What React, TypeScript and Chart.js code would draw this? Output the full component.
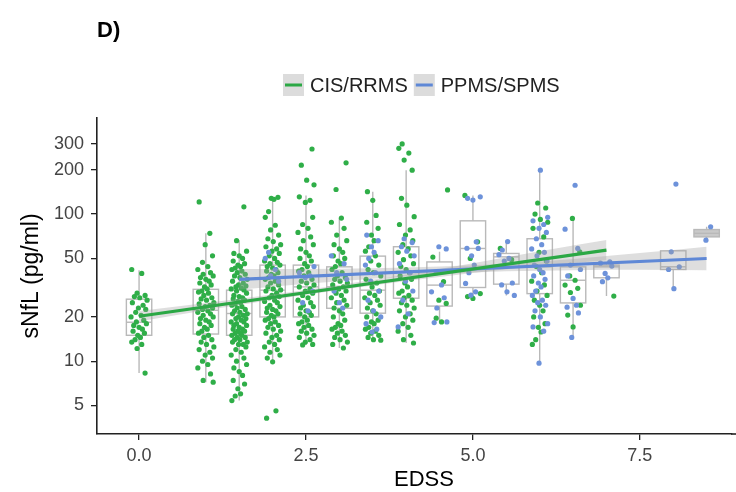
import React, { useEffect, useRef } from 'react';
import { Chart, registerables } from 'chart.js';

Chart.register(...registerables);

// ---------- data ----------
const EDSS_LEVELS = [0, 1, 1.5, 2, 2.5, 3, 3.5, 4, 4.5, 5, 5.5, 6, 6.5, 7, 8, 8.5];
const BOX_LOW = [8.3, 7.2, 5.4, 9.9, 12.9, 12.3, 13.9, 13.3, 18.3, 26.7, 28, 9.7, 14.5, 27.7, 31.1, 66.5];
const BOX_Q1 = [15.0, 15.3, 15.0, 20.0, 20.0, 22.9, 21.2, 26.8, 23.7, 31.7, 33.4, 28.8, 24.9, 36.9, 42.0, 70.0];
const BOX_MED = [18.4, 22.2, 21.1, 30.4, 32.0, 32.0, 30.4, 40.5, 32.9, 58.4, 51.2, 43.8, 35.5, 43.8, 43.8, 74.0];
const BOX_Q3 = [26.4, 30.8, 30.4, 45.0, 45.0, 43.8, 51.8, 60.0, 47.3, 90.0, 54.0, 68.0, 43.8, 45.0, 56.3, 78.5];
const BOX_HIGH = [41.6, 74, 66.5, 131, 134, 94, 142, 199, 55.4, 134, 66.5, 199, 93.5, 47.3, 56.3, 82];

const GREEN_BY_LEVEL: number[][] = [
  [42, 39.5, 29, 28, 27.5, 27, 26, 25, 24, 23, 22.5, 21.5, 20.5, 20, 19, 18.5, 18, 17.5, 17, 16.5, 16, 15.5, 15, 14.5, 14, 13.5, 13, 12.2, 8.3],
  [121, 74, 62, 52, 47, 44, 42, 40, 39, 38, 37, 36, 35, 34, 33, 32, 31, 30, 29.5, 29, 28, 27, 26.5, 26, 25, 24.5, 24, 23.5, 23, 22.5, 22, 21.5, 21, 20.5, 20, 19.5, 19, 18.5, 18, 17.5, 17, 16.5, 16, 15.5, 15, 14.5, 14, 13.5, 13, 12.5, 12, 11.5, 11, 10.5, 10, 9.5, 9, 8.2, 7.4, 7.2],
  [112, 66, 56, 54, 52, 50, 48, 46, 45, 44, 43, 42, 41, 40, 39, 38, 37, 36, 35, 34, 33, 32.5, 32, 31.5, 31, 30.5, 30, 29, 28, 27.5, 27, 26.5, 26, 25.5, 25, 24.5, 24, 23.5, 23, 22.5, 22, 21.5, 21, 21, 20.5, 20, 19.5, 19.5, 19, 18.5, 18.5, 18, 17.5, 17.5, 17, 16.5, 16.5, 16, 16, 15.5, 15.5, 15, 15, 14.5, 14.5, 14, 14, 13.5, 13.5, 13, 13, 12.5, 12, 11.5, 11, 10.5, 10, 9.5, 9, 8.5, 8, 7.4, 7, 6.5, 6, 5.8, 5.4],
  [130, 128, 126, 104, 95, 84, 78, 72, 68, 65, 62, 60, 58, 56, 54, 52, 50, 48, 47, 46, 45, 44, 43, 42, 41, 40, 39, 38, 37, 36, 35, 34, 33, 32, 31, 30.5, 30, 29, 28, 27.5, 27, 26, 25.5, 25, 24, 23.5, 23, 22.5, 22, 21.5, 21, 20.5, 20, 19.5, 19, 18.5, 18, 17.5, 17, 16.5, 16, 15.5, 15, 14.5, 14, 13.5, 13, 12.5, 12, 11.5, 11, 10.5, 9.9, 4.6, 4.1],
  [277, 215, 170, 158, 131, 124, 120, 95, 85, 80, 75, 70, 66, 62, 58, 55, 52, 50, 48, 46, 44, 42, 41, 40, 38, 36, 35, 34, 33, 32, 31, 30, 29, 28, 27, 26, 25, 24, 23.5, 23, 22, 21.5, 21, 20.5, 20, 19, 18.5, 18, 17.5, 17, 16.5, 16, 15.5, 15, 14.5, 14, 13.5, 13, 12.9],
  [223, 147, 94, 88, 80, 72, 66, 62, 58, 55, 52, 50, 48, 46, 44, 42, 40, 38, 37, 36, 35, 34, 33, 32, 31, 30, 29, 28, 27, 26, 25, 24, 23, 22, 21, 20, 19, 18, 17.5, 17, 16.5, 16, 15.5, 15, 14.5, 14, 13.5, 13, 12.3],
  [142, 124, 98, 88, 80, 72, 66, 60, 56, 52, 48, 45, 42, 40, 38, 36, 34, 32, 30, 29, 28, 27, 26, 25, 24, 23, 22, 21, 20, 19, 18.5, 18, 17, 16.5, 16, 15.5, 15, 14.5, 14, 13.9],
  [300, 280, 260, 233, 199, 128, 115, 96, 85, 78, 72, 66, 62, 58, 55, 52, 49, 46, 44, 42, 40, 38, 36, 34, 32, 30, 29, 28, 27, 26, 25, 24, 23, 22, 21, 20, 19, 18, 17, 16, 15, 14, 13.3],
  [146, 51, 34.7, 26, 24.7, 19.6, 18.5],
  [134, 64.8, 50, 28.8, 27.5, 26.7],
  [58.4, 49],
  [119, 110, 100, 92, 88, 80, 70, 55, 48, 44, 40, 35, 33, 30, 28, 26, 24, 22, 20, 18, 17, 15.8, 14, 13],
  [93.5, 55.4, 38, 35.5, 32.9, 31.3, 29.3, 24, 20.6, 17.1],
  [27.7],
  [],
  [],
];

const BLUE_BY_LEVEL: number[][] = [
  [],
  [],
  [],
  [55, 50, 42, 38, 35],
  [44, 40, 38, 37, 30, 25, 22],
  [52, 46, 40, 36, 30, 25, 23],
  [72, 66, 60, 55, 50, 45, 40, 35, 30, 26, 22, 20, 18, 16.5, 15.8],
  [68, 64, 60, 56, 52, 46, 40, 35, 30, 26, 21, 17.1],
  [60, 58, 40, 33, 29.6, 27, 23, 18.5, 18.3],
  [131, 128, 124.5, 64.8, 58.6, 58.4, 52, 45, 40, 33.8, 29.6, 28.1],
  [65, 57, 53, 50, 48, 34, 33, 29.6, 28],
  [199, 95, 90, 85, 80, 75, 68, 62, 58, 55, 52, 48, 45, 42, 40, 38, 36, 34, 32, 30, 28, 26, 25, 24, 22, 20, 18, 17.1, 16, 9.7],
  [157, 79, 58.4, 45, 42, 38, 26.7, 24, 23.3, 21.3, 14.5],
  [47.3, 46.4, 44.3, 39.5, 36.9, 34.7],
  [160, 55.4, 43.8, 42, 31.1],
  [82, 66.5],
];

// horizontal jitter offsets (EDSS units), cycled through
const JITTER = [-0.11, 0.04, -0.03, 0.09, -0.07, 0.01, 0.12, -0.1, 0.06, -0.01, 0.1, -0.05, 0.03, -0.12, 0.07, -0.04, 0.11, -0.08, 0.0, 0.05, -0.09, 0.08, -0.02, 0.02, -0.06];

// linear fits (log scale) and confidence bands
const GREEN_FIT_X = [0, 7];
const GREEN_FIT_Y = [20.2, 56.9];
const BLUE_FIT_X = [1.5, 8.5];
const BLUE_FIT_Y = [36.0, 49.9];

const GREEN_BAND_X = [0, 1, 2, 3, 4, 5, 6, 7];
const GREEN_BAND_LOW = [18.6, 22.2, 26.2, 30.5, 35.1, 39.8, 44.4, 48.6];
const GREEN_BAND_HIGH = [21.9, 24.9, 28.4, 33.0, 38.8, 46.3, 55.9, 66.6];

const BLUE_BAND_X = [1.5, 2.5, 3.5, 4.5, 5.5, 6.5, 7.5, 8.5];
const BLUE_BAND_LOW = [30.6, 33.6, 36.4, 38.9, 40.8, 41.6, 41.8, 41.5];
const BLUE_BAND_HIGH = [42.3, 42.3, 42.8, 44.0, 46.2, 49.5, 54.3, 60.0];

const X_TICKS = [0, 2.5, 5, 7.5];
const Y_TICKS = [5, 10, 20, 50, 100, 200, 300];

const SERIES_NAMES = ['CIS/RRMS', 'PPMS/SPMS'];
const TITLE = 'D)';
const X_TITLE = 'EDSS';
const Y_TITLE = 'sNfL (pg/ml)';

// ---------- styles ----------
const GREEN = '#2fae48';
const BLUE = '#6d92da';
const GREEN_LINE = '#2ba845';
const BLUE_LINE = '#5f88d6';
const BAND = 'rgba(160,160,160,0.35)';
const FONT = '"Liberation Sans", Arial, Helvetica, sans-serif';

function pts(levelsVals: number[][], shift: number) {
  const out: { x: number; y: number }[] = [];
  EDSS_LEVELS.forEach((lv, g) => {
    levelsVals[g].forEach((v, i) => {
      out.push({ x: lv + JITTER[(i + g * 7 + shift) % JITTER.length], y: v });
    });
  });
  return out;
}

const zip = (xs: number[], ys: number[]) => xs.map((x, i) => ({ x, y: ys[i] }));

const overlay = {
  id: 'overlay',
  beforeDatasetsDraw(chart: any) {
    const xs = chart.scales.x;
    const ys = chart.scales.y;
    const a = chart.chartArea;
    const c: CanvasRenderingContext2D = chart.ctx;
    c.save();
    c.beginPath();
    c.rect(a.left, a.top, a.right - a.left, a.bottom - a.top);
    c.clip();
    const half = 0.19;
    EDSS_LEVELS.forEach((lv, i) => {
      const xl = xs.getPixelForValue(lv - half);
      const xr = xs.getPixelForValue(lv + half);
      const xc = xs.getPixelForValue(lv);
      const pLow = ys.getPixelForValue(BOX_LOW[i]);
      const pQ1 = ys.getPixelForValue(BOX_Q1[i]);
      const pMed = ys.getPixelForValue(BOX_MED[i]);
      const pQ3 = ys.getPixelForValue(BOX_Q3[i]);
      const pHigh = ys.getPixelForValue(BOX_HIGH[i]);
      c.strokeStyle = '#b9b9b9';
      c.lineWidth = 1.4;
      c.beginPath();
      c.moveTo(xc, pQ3);
      c.lineTo(xc, pHigh);
      c.moveTo(xc, pQ1);
      c.lineTo(xc, pLow);
      c.stroke();
      if (pQ1 - pQ3 < 12) {
        c.fillStyle = '#c9c9c9';
        c.fillRect(xl, pQ3, xr - xl, pQ1 - pQ3);
      }
      c.strokeRect(xl, pQ3, xr - xl, pQ1 - pQ3);
      c.beginPath();
      c.moveTo(xl, pMed);
      c.lineTo(xr, pMed);
      c.stroke();
    });
    c.restore();
  },
  afterDraw(chart: any) {
    const c: CanvasRenderingContext2D = chart.ctx;
    const a = chart.chartArea;
    c.save();
    // extend x axis line to the canvas edge
    c.strokeStyle = '#222';
    c.lineWidth = 1.6;
    c.beginPath();
    c.moveTo(a.right - 1, a.bottom);
    c.lineTo(chart.width, a.bottom);
    c.stroke();
    // title
    c.fillStyle = '#000';
    c.font = `bold 22px ${FONT}`;
    c.textAlign = 'left';
    c.textBaseline = 'alphabetic';
    c.fillText(TITLE, 97, 37);
    // axis titles
    c.font = `22px ${FONT}`;
    c.textAlign = 'center';
    c.textBaseline = 'middle';
    c.fillText(X_TITLE, 424, 480);
    c.font = `23px ${FONT}`;
    c.save();
    c.translate(32, (a.top + a.bottom) / 2);
    c.rotate(-Math.PI / 2);
    c.fillText(Y_TITLE, 0, 0);
    c.restore();
    // legend
    c.font = `20px ${FONT}`;
    c.textAlign = 'left';
    c.textBaseline = 'middle';
    const cy = 85;
    let x = 283;
    const colors = [GREEN_LINE, BLUE_LINE];
    SERIES_NAMES.forEach((name, i) => {
      c.fillStyle = '#dcdcdc';
      c.fillRect(x, cy - 11, 21, 22);
      c.strokeStyle = colors[i];
      c.lineWidth = 3;
      c.beginPath();
      c.moveTo(x + 2, cy);
      c.lineTo(x + 19, cy);
      c.stroke();
      x += 27;
      c.fillStyle = '#222';
      c.fillText(name, x, cy + 1);
      x += c.measureText(name).width + 6;
    });
    c.restore();
  },
};

export default function App() {
  const ref = useRef<HTMLCanvasElement>(null);
  useEffect(() => {
    const canvas = ref.current!;
    Chart.defaults.font.family = FONT;
    const chart = new Chart(canvas, {
      type: 'scatter',
      data: {
        datasets: [
          {
            type: 'line',
            data: zip(GREEN_FIT_X, GREEN_FIT_Y),
            borderColor: GREEN_LINE,
            borderWidth: 3.2,
            pointRadius: 0,
            fill: false,
          },
          {
            type: 'line',
            data: zip(BLUE_FIT_X, BLUE_FIT_Y),
            borderColor: BLUE_LINE,
            borderWidth: 3.2,
            pointRadius: 0,
            fill: false,
          },
          {
            type: 'line',
            data: zip(GREEN_BAND_X, GREEN_BAND_HIGH),
            borderWidth: 0,
            borderColor: 'rgba(0,0,0,0)',
            pointRadius: 0,
            cubicInterpolationMode: 'monotone',
            backgroundColor: BAND,
            fill: '+1',
          },
          {
            type: 'line',
            data: zip(GREEN_BAND_X, GREEN_BAND_LOW),
            borderWidth: 0,
            borderColor: 'rgba(0,0,0,0)',
            pointRadius: 0,
            cubicInterpolationMode: 'monotone',
            fill: false,
          },
          {
            type: 'line',
            data: zip(BLUE_BAND_X, BLUE_BAND_HIGH),
            borderWidth: 0,
            borderColor: 'rgba(0,0,0,0)',
            pointRadius: 0,
            cubicInterpolationMode: 'monotone',
            backgroundColor: BAND,
            fill: '+1',
          },
          {
            type: 'line',
            data: zip(BLUE_BAND_X, BLUE_BAND_LOW),
            borderWidth: 0,
            borderColor: 'rgba(0,0,0,0)',
            pointRadius: 0,
            cubicInterpolationMode: 'monotone',
            fill: false,
          },
          {
            data: pts(BLUE_BY_LEVEL, 3),
            backgroundColor: BLUE,
            borderWidth: 0,
            pointRadius: 2.6,
          },
          {
            data: pts(GREEN_BY_LEVEL, 0),
            backgroundColor: GREEN,
            borderWidth: 0,
            pointRadius: 2.6,
          },
        ] as any,
      },
      options: {
        animation: false,
        responsive: false,
        maintainAspectRatio: false,
        events: [],
        layout: { padding: { top: 118, left: 0, right: 0, bottom: 0 } },
        plugins: {
          legend: { display: false },
          tooltip: { enabled: false },
          title: { display: false },
        },
        scales: {
          x: {
            type: 'linear',
            position: 'bottom',
            min: -0.63,
            max: 8.88,
            bounds: 'data',
            afterBuildTicks: (s: any) => {
              s.ticks = X_TICKS.map((v) => ({ value: v }));
            },
            afterFit: (s: any) => {
              s.height = 58;
              s.paddingLeft = 0;
              s.paddingRight = 0;
            },
            ticks: {
              callback: (v: any) => Number(v).toFixed(1),
              font: { size: 18 },
              color: '#444',
              padding: 5,
              maxRotation: 0,
              autoSkip: false,
            },
            grid: {
              drawOnChartArea: false,
              drawTicks: true,
              tickLength: 6,
              color: '#222',
              lineWidth: 1.3,
            },
            border: { display: true, color: '#222', width: 1.6 },
          },
          y: {
            type: 'logarithmic',
            min: 3.2,
            max: 450,
            bounds: 'data',
            afterBuildTicks: (s: any) => {
              s.ticks = Y_TICKS.map((v) => ({ value: v }));
            },
            afterFit: (s: any) => {
              s.width = 97;
              s.paddingTop = 0;
              s.paddingBottom = 0;
            },
            ticks: {
              callback: (v: any) => String(v),
              font: { size: 18 },
              color: '#444',
              padding: 7,
              autoSkip: false,
            },
            grid: {
              drawOnChartArea: false,
              drawTicks: true,
              tickLength: 6,
              color: '#222',
              lineWidth: 1.3,
            },
            border: { display: true, color: '#222', width: 1.6 },
          },
        },
      } as any,
      plugins: [overlay],
    });
    return () => chart.destroy();
  }, []);
  return (
    <div style={{ position: 'fixed', left: 0, top: 0, width: 736, height: 492, background: '#fff' }}>
      <canvas ref={ref} width={736} height={492} style={{ width: 736, height: 492, display: 'block' }} />
    </div>
  );
}
